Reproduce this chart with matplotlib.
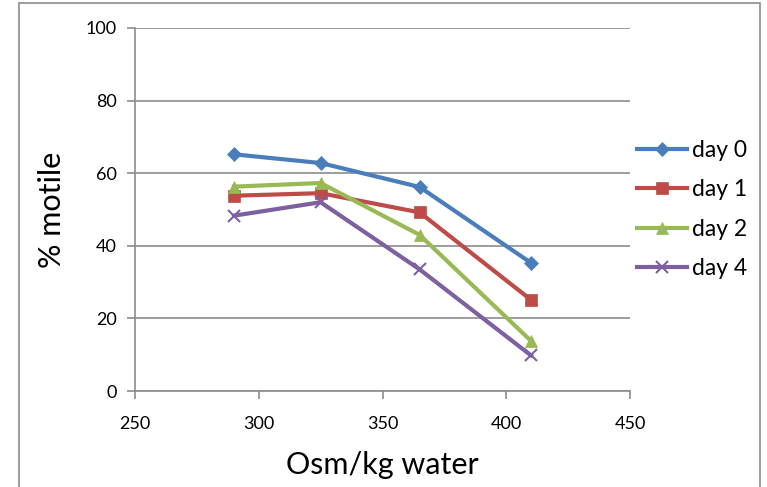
import matplotlib
matplotlib.use("Agg")
import matplotlib.pyplot as plt
from matplotlib.patches import Rectangle

# Data
osm = [290, 325, 365, 410]
day0 = [65.2, 62.8, 56.2, 35.3]
day1 = [53.8, 54.5, 49.2, 25.1]
day2 = [56.3, 57.3, 43.0, 13.8]
day4 = [48.3, 52.0, 33.5, 9.8]

series_labels = ["day 0", "day 1", "day 2", "day 4"]
colors = ["#4A7EBB", "#BE4B48", "#98B954", "#7D60A0"]
markers = ["D", "s", "^", "x"]
msizes = [7, 9, 9, 9]

plt.rcParams['font.family'] = ['Lato', 'DejaVu Sans']

fig = plt.figure(figsize=(7.67, 4.87), dpi=100)
ax = fig.add_axes([135 / 767, 96 / 487, 495 / 767, 363 / 487])

# outer chart border
fig.patches.append(Rectangle((19 / 767, -0.05), 741 / 767, 1.05 - 3 / 487,
                             transform=fig.transFigure, fill=False,
                             edgecolor="#8c8c8c", linewidth=1.2))

for vals, lab, c, m, ms in zip([day0, day1, day2, day4], series_labels, colors, markers, msizes):
    ax.plot(osm, vals, color=c, linewidth=3, marker=m, markersize=ms,
            markeredgewidth=1.5 if m == "x" else 0.5, markeredgecolor=c,
            label=lab, zorder=3)

ax.set_xlim(250, 450)
ax.set_ylim(0, 100)
ax.set_xticks(range(250, 451, 50))
ax.set_yticks(range(0, 101, 20))
ax.grid(axis="y", color="#8c8c8c", linewidth=1.2)
ax.set_axisbelow(True)

for s in ["top", "right"]:
    ax.spines[s].set_visible(False)
for s in ["left", "bottom"]:
    ax.spines[s].set_color("#8c8c8c")
    ax.spines[s].set_linewidth(1.2)
ax.tick_params(axis="both", colors="#8c8c8c", length=6, width=1.2, labelsize=13,
               labelcolor="black", direction="out")
ax.tick_params(axis="x", pad=12)
ax.tick_params(axis="y", pad=7)

ax.set_xlabel("Osm/kg water", fontsize=22, labelpad=14)
ax.set_ylabel("% motile", fontsize=22, labelpad=14)

ax.legend(loc="center left", bbox_to_anchor=(0.995, 0.5), frameon=False,
          fontsize=16.5, handlelength=2.2, labelspacing=0.8, handletextpad=0.2,
          borderaxespad=0.0)

fig.savefig("out.png", dpi=100)
